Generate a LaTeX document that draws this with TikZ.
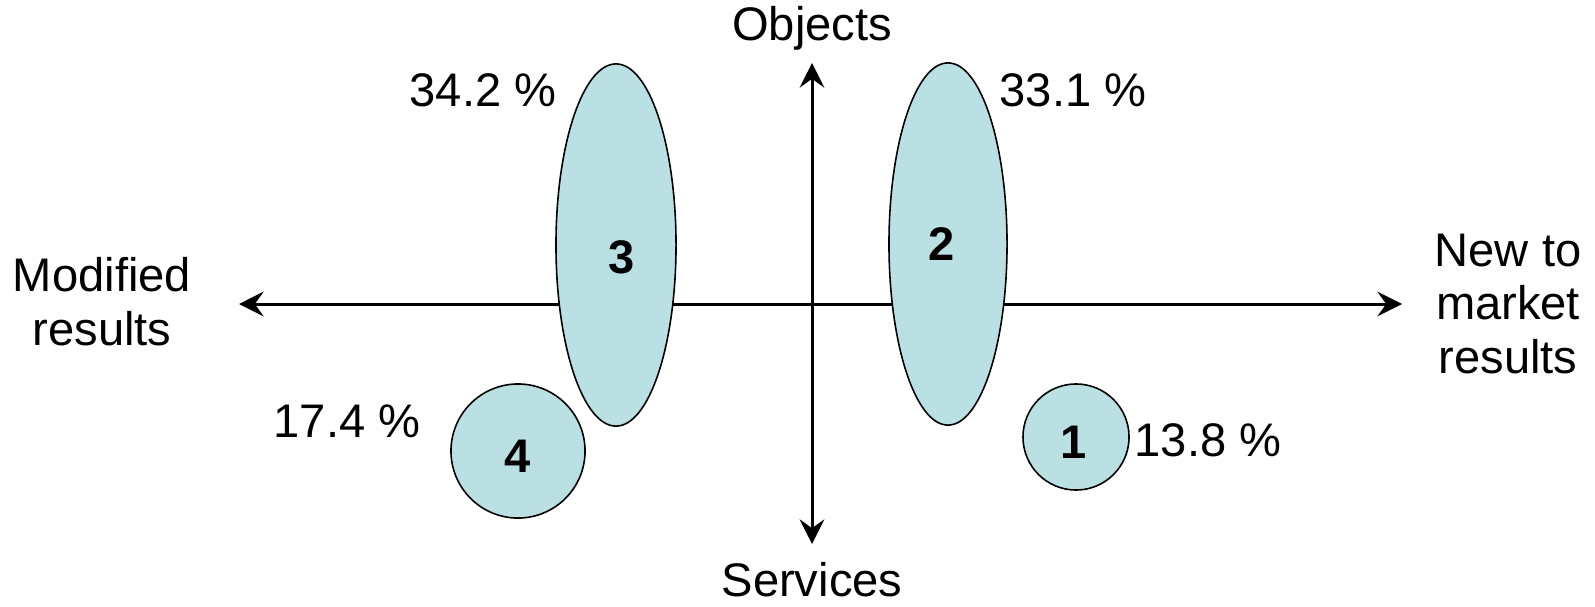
\documentclass[tikz,border=0pt]{standalone}
\usepackage{fontspec}
\setmainfont{Liberation Sans}
\usepackage{xcolor}
\usetikzlibrary{arrows.meta,positioning,shapes.geometric}

\definecolor{groupfill}{HTML}{BBE0E3}

\begin{document}
\begin{tikzpicture}[x=0.01cm,y=-0.01cm,
    txt/.style={font=\fontsize{13.4}{15.3}\selectfont, align=center, inner sep=0},
    num/.style={font=\fontsize{13.4}{15.3}\selectfont\bfseries, inner sep=0},
    blob/.style={draw=black, line width=0.45pt, fill=groupfill, inner sep=0},
    axis/.style={line width=0.85pt, {Stealth[length=7pt,width=7pt,inset=2.5pt]}-{Stealth[length=7pt,width=7pt,inset=2.5pt]}}]
\useasboundingbox (0,0) rectangle (1595,606);

% Axes
\coordinate (west) at (239,304);
\coordinate (east) at (1402,304);
\coordinate (north) at (812,63);
\coordinate (south) at (812,544);
\draw[axis] (west) -- (east);
\draw[axis] (north) -- (south);

% Axis labels
\node[txt] (objects) at (812,28) {Objects};
\node[txt] (services) at (812,580) {Services};
\node[txt] (modified) at (102,302) {Modified\\results};
\node[txt] (newtomarket) at (1508,304) {New to\\market\\results};

% Groups
\node[blob, ellipse, minimum width=1.20cm, minimum height=3.62cm] (g3) at (616,245) {};
\node[blob, ellipse, minimum width=1.18cm, minimum height=3.62cm] (g2) at (948,244) {};
\node[blob, circle, minimum size=1.34cm] (g4) at (518,451) {};
\node[blob, circle, minimum size=1.06cm] (g1) at (1076,437) {};

\node[num] at (622,257) {3};
\node[num] at (942,244) {2};
\node[num] at (518,456) {4};
\node[num] at (1074,442) {1};

% Shares
\node[txt] (p3) at (483,90) {34.2 \%};
\node[txt] (p2) at (1073,90) {33.1 \%};
\node[txt] (p4) at (347,421) {17.4 \%};
\node[txt] (p1) at (1208,440) {13.8 \%};
\end{tikzpicture}
\end{document}
